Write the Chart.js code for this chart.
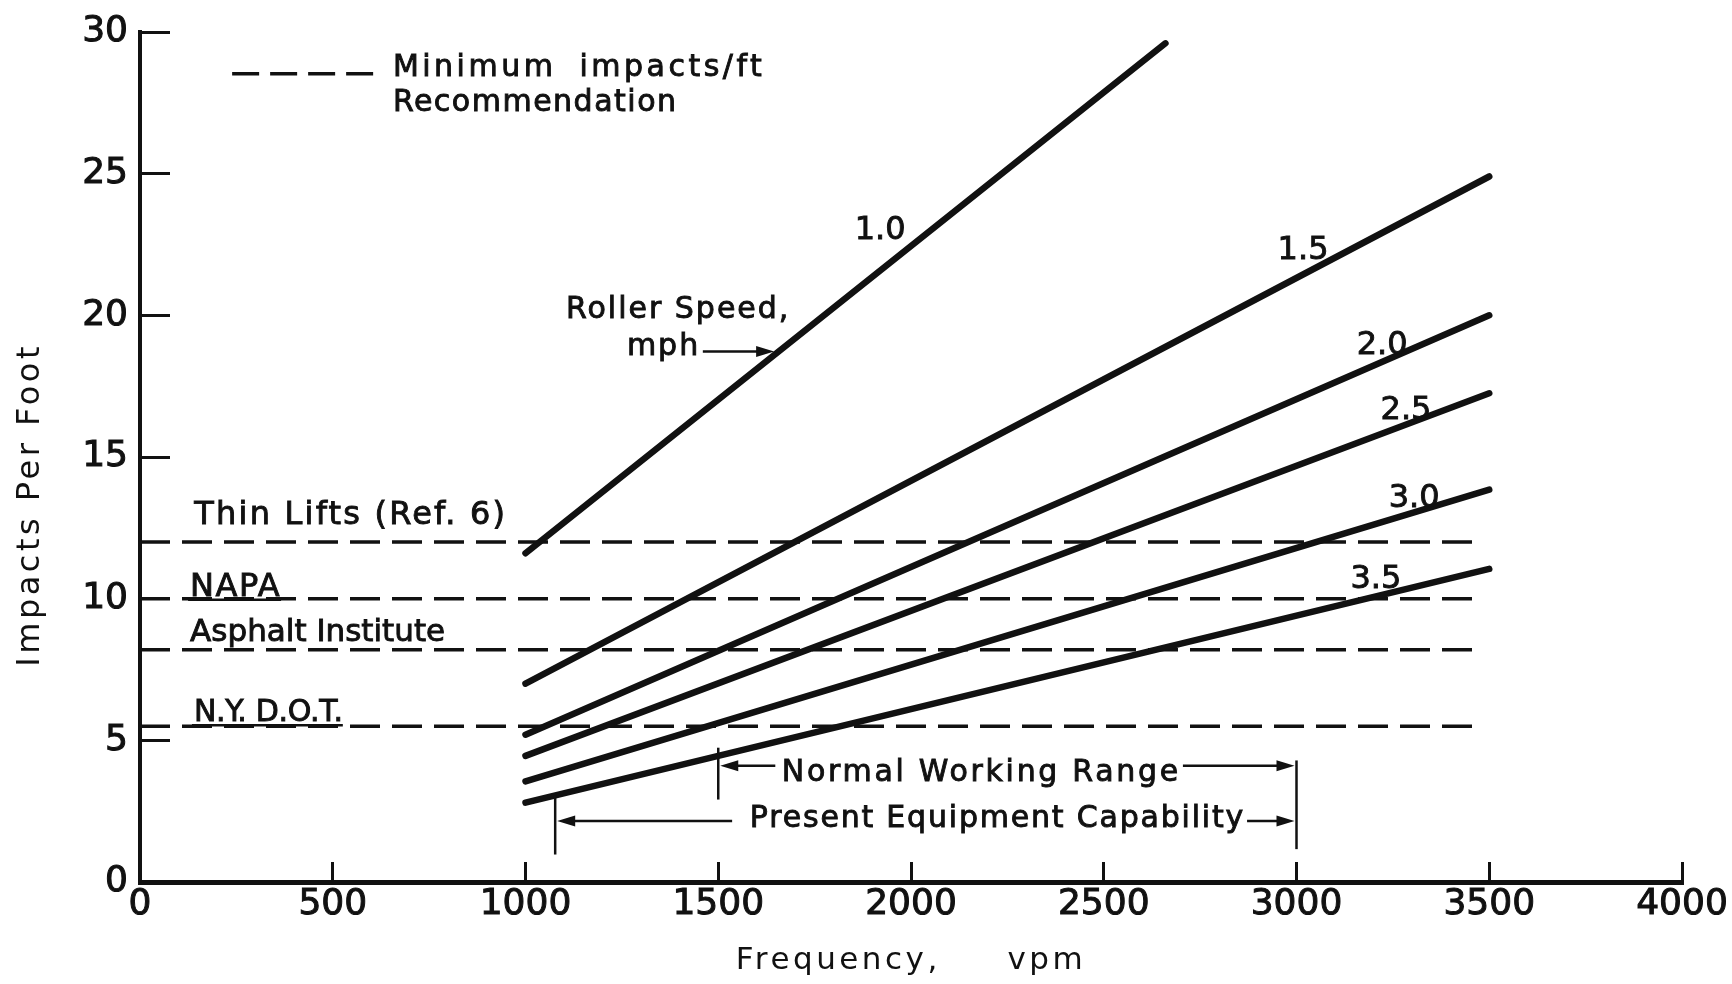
<!DOCTYPE html>
<html>
<head>
<meta charset="utf-8">
<title>Impacts Per Foot vs Frequency</title>
<script src="https://cdn.jsdelivr.net/npm/chart.js@4/dist/chart.umd.min.js"></script>
<style>
  html, body { margin: 0; padding: 0; background: #fff; }
  #wrap { width: 1732px; height: 984px; position: relative; }
</style>
</head>
<body>
<div id="wrap"><canvas id="chart"></canvas></div>
<script>
// roller speed lines (mph) - end points
const speedLabels = ['1.0', '1.5', '2.0', '2.5', '3.0', '3.5'];
const speedStartX = [1000, 1000, 1000, 1000, 1000, 1000];
const speedStartY = [11.6, 7.0, 5.2, 4.45, 3.55, 2.8];
const speedEndX = [2660, 3500, 3500, 3500, 3500, 3500];
const speedEndY = [29.6, 24.9, 20.0, 17.25, 13.85, 11.05];

// minimum impacts/ft recommendations (dashed lines)
const recNames = ['Thin Lifts (Ref. 6)', 'NAPA', 'Asphalt Institute', 'N.Y. D.O.T.'];
const recValues = [12, 10, 8.2, 5.5];
const recFromX = [0, 0, 0, 0];
const recToX = [3480, 3480, 3480, 3480];

// frequency ranges along the bottom
const rangeNames = ['Normal Working Range', 'Present Equipment Capability'];
const rangeFrom = [1500, 1077];
const rangeTo = [3000, 3000];

// axes
const xMin = 0, xMax = 4000, xStep = 500;
const yMin = 0, yMax = 30, yStep = 5;
const xTitle = 'Frequency,     vpm';
const yTitle = 'Impacts Per Foot';

const INK = '#111';
const FONT = '"DejaVu Sans"';

// where the figure's lettering sits (data units), kept apart from the data
const speedLabelAt = [[1920, 22.7], [3017, 22.0], [3222, 18.65], [3284, 16.33], [3305, 13.22], [3206, 10.38]];
const recLabelAt = [[141, 12.65], [130, 10.1], [130, 8.5], [140, 5.67]];
const recLabelSize = [32, 32, 31, 30];
const recLabelSpacing = [2.2, 1.5, 0, -0.3];
const recUnderline = [false, true, false, true];
const rangeArrowY = [4.1, 2.15];
const rangeTextAt = [[1665, 3.58], [1582, 1.94]];
const rangeTextSpacing = [2.7, 1.8];
const rangeLeftStop = [1648, 1536];
const rangeBarY = [[2.91, 4.74], [0.97, 3.06]];
const rightBarY = [1.16, 4.29];

function put(ctx, text, x, y, size, spacing, align) {
  ctx.font = size + 'px ' + FONT;
  ctx.letterSpacing = spacing + 'px';
  ctx.textAlign = align || 'left';
  ctx.lineWidth = 0.9;
  ctx.fillText(text, x, y);
  ctx.strokeText(text, x, y);
  return ctx.measureText(text).width;
}

function arrowHead(ctx, x, y, dir) {
  ctx.beginPath();
  ctx.moveTo(x, y);
  ctx.lineTo(x - dir * 18, y - 5.5);
  ctx.lineTo(x - dir * 18, y + 5.5);
  ctx.closePath();
  ctx.fill();
}

function segment(ctx, x1, y1, x2, y2) {
  ctx.beginPath();
  ctx.moveTo(x1, y1);
  ctx.lineTo(x2, y2);
  ctx.stroke();
}

// axis titles get wide letter spacing, tick labels none
const spacingPlugin = {
  id: 'titleSpacing',
  beforeDraw(chart) { chart.ctx.letterSpacing = '3.5px'; },
  beforeDatasetsDraw(chart) { chart.ctx.letterSpacing = '0px'; }
};

const figureText = {
  id: 'figureText',
  afterDraw(chart) {
    const ctx = chart.ctx;
    const px = v => chart.scales.x.getPixelForValue(v);
    const py = v => chart.scales.y.getPixelForValue(v);
    ctx.save();
    ctx.fillStyle = INK;
    ctx.strokeStyle = INK;
    ctx.textBaseline = 'alphabetic';

    // legend
    ctx.lineWidth = 3.5;
    ctx.setLineDash([27, 11]);
    segment(ctx, px(239), py(28.53), px(605), py(28.53));
    ctx.setLineDash([]);
    ctx.wordSpacing = '10px';
    put(ctx, 'Minimum impacts/ft', px(656), py(28.46), 30, 3.5);
    ctx.wordSpacing = '0px';
    put(ctx, 'Recommendation', px(656), py(27.2), 30, 1.5);

    // roller speed labels
    speedLabels.forEach((t, i) => {
      put(ctx, t, px(speedLabelAt[i][0]), py(speedLabelAt[i][1]), 32, 0, 'center');
    });
    put(ctx, 'Roller Speed,', px(1105), py(19.9), 30, 2);
    put(ctx, 'mph', px(1263), py(18.6), 30, 2);
    ctx.lineWidth = 2.5;
    segment(ctx, px(1460), py(18.72), px(1630), py(18.72));
    arrowHead(ctx, px(1645), py(18.72), 1);

    // recommendation labels
    recNames.forEach((t, i) => {
      const x0 = px(recLabelAt[i][0]), y0 = py(recLabelAt[i][1]);
      const w = put(ctx, t, x0, y0, recLabelSize[i], recLabelSpacing[i]);
      if (recUnderline[i]) {
        ctx.lineWidth = 2.5;
        segment(ctx, x0 - 2, y0 + 4, x0 + w, y0 + 4);
      }
    });

    // range brackets
    ctx.lineWidth = 2.5;
    segment(ctx, px(3000), py(rightBarY[0]), px(3000), py(rightBarY[1]));
    rangeNames.forEach((t, i) => {
      const ay = py(rangeArrowY[i]);
      const left = px(rangeFrom[i]), right = px(rangeTo[i]);
      ctx.lineWidth = 2.5;
      segment(ctx, left, py(rangeBarY[i][0]), left, py(rangeBarY[i][1]));
      segment(ctx, left + 10, ay, px(rangeLeftStop[i]), ay);
      arrowHead(ctx, left + 2, ay, -1);
      const tx = px(rangeTextAt[i][0]);
      const w = put(ctx, t, tx, py(rangeTextAt[i][1]), 30, rangeTextSpacing[i]);
      ctx.lineWidth = 2.5;
      segment(ctx, tx + w + 2, ay, right - 10, ay);
      arrowHead(ctx, right - 2, ay, 1);
    });
    ctx.restore();
  }
};

const datasets = [];
speedLabels.forEach((s, i) => {
  datasets.push({
    label: s + ' mph',
    data: [{ x: speedStartX[i], y: speedStartY[i] }, { x: speedEndX[i], y: speedEndY[i] }],
    borderColor: INK,
    borderWidth: 6.5,
    borderCapStyle: 'round',
    pointRadius: 0,
    fill: false
  });
});
recNames.forEach((n, i) => {
  datasets.push({
    label: n,
    data: [{ x: recFromX[i], y: recValues[i] }, { x: recToX[i], y: recValues[i] }],
    borderColor: INK,
    borderWidth: 3.5,
    borderDash: [30, 12],
    pointRadius: 0,
    fill: false
  });
});

new Chart(document.getElementById('chart'), {
  type: 'line',
  data: { datasets: datasets },
  plugins: [spacingPlugin, figureText],
  options: {
    animation: false,
    responsive: true,
    maintainAspectRatio: false,
    layout: { padding: { top: 32, right: 50, bottom: 0, left: 0 } },
    plugins: { legend: { display: false }, tooltip: { enabled: false } },
    scales: {
      x: {
        type: 'linear', min: xMin, max: xMax,
        afterFit(scale) { scale.height = 102; scale.paddingLeft = 0; scale.paddingRight = 0; },
        ticks: {
          stepSize: xStep, color: INK, font: { family: FONT, size: 36 }, padding: 21, z: 1, maxRotation: 0,
          textStrokeColor: INK, textStrokeWidth: 1, callback: v => String(v)
        },
        grid: { drawOnChartArea: false, drawTicks: true, tickLength: -20, tickColor: INK, tickWidth: 3 },
        border: { display: true, color: INK, width: 5 },
        title: { display: true, text: xTitle, color: INK, font: { family: FONT, size: 31 }, padding: { top: 0, bottom: 4 } }
      },
      y: {
        type: 'linear', min: yMin, max: yMax,
        afterFit(scale) { scale.width = 140; scale.paddingTop = 0; scale.paddingBottom = 0; },
        ticks: {
          stepSize: yStep, color: INK, font: { family: FONT, size: 36 }, padding: 42, z: 1,
          textStrokeColor: INK, textStrokeWidth: 1, callback: v => String(v)
        },
        grid: { drawOnChartArea: false, drawTicks: true, tickLength: -30, tickColor: INK, tickWidth: 3 },
        border: { display: true, color: INK, width: 4 },
        title: { display: true, text: yTitle + '       ', color: INK, font: { family: FONT, size: 32 }, padding: { top: 11, bottom: 0 } }
      }
    }
  }
});
</script>
</body>
</html>
